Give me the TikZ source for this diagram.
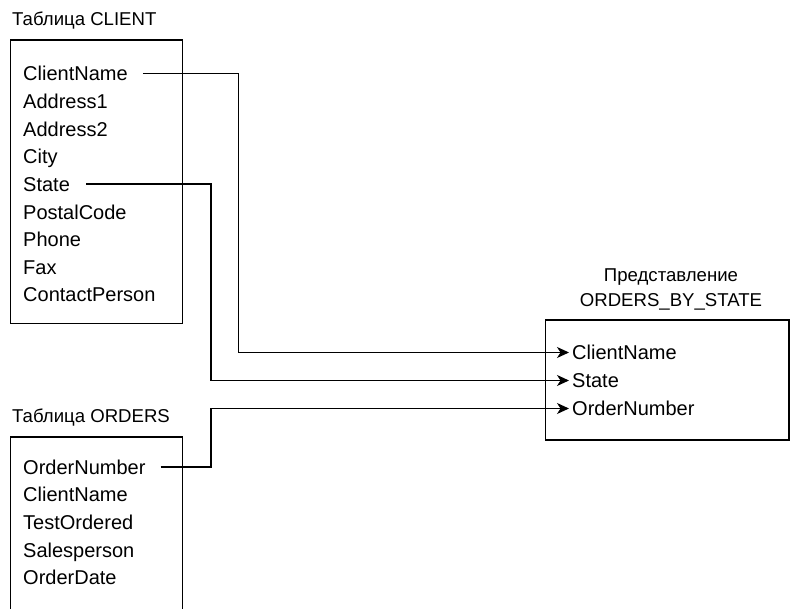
\documentclass[tikz,border=0pt]{standalone}
\usepackage{fontspec}
\setmainfont{Liberation Sans}
\usetikzlibrary{arrows.meta}
\begin{document}
\begin{tikzpicture}[x=1pt,y=-1pt,
  box/.style={draw, line width=1.3pt},
  field/.style={font=\fontsize{20}{24}\selectfont, inner sep=0pt, text height=14.5pt, text depth=0pt, anchor=west},
  ttl/.style={font=\fontsize{18.6}{22}\selectfont, inner sep=0pt, anchor=base west},
  vttl/.style={font=\fontsize{18.6}{22}\selectfont, inner sep=0pt, anchor=base},
  conn/.style={line width=1.3pt},
  arr/.style={conn, -{Stealth[length=12pt,width=11pt,inset=3.5pt]}}]
\useasboundingbox (0,0) rectangle (790,609);
\clip (0,0) rectangle (790,609);
% CLIENT table
\node[ttl] (tc) at (12,26) {Таблица CLIENT};
\draw[box] (10.5,40) rectangle (182.5,323.5);
\node[field] (c1) at (23,73.5) {ClientName};
\node[field] (c2) at (23,101.2) {Address1};
\node[field] (c3) at (23,128.8) {Address2};
\node[field] (c4) at (23,156.5) {City};
\node[field] (c5) at (23,184.1) {State};
\node[field] (c6) at (23,211.8) {PostalCode};
\node[field] (c7) at (23,239.4) {Phone};
\node[field] (c8) at (23,267.1) {Fax};
\node[field] (c9) at (23,294.7) {ContactPerson};
% ORDERS table
\node[ttl] (to) at (12,423) {Таблица ORDERS};
\draw[box] (10.5,620) -- (10.5,437) -- (182.5,437) -- (182.5,620);
\node[field] (o1) at (23,467) {OrderNumber};
\node[field] (o2) at (23,494.6) {ClientName};
\node[field] (o3) at (23,522.3) {TestOrdered};
\node[field] (o4) at (23,549.9) {Salesperson};
\node[field] (o5) at (23,577.6) {OrderDate};
% View
\node[vttl] (v1) at (671,282) {Представление};
\node[vttl] (v2) at (671,307) {ORDERS\_BY\_STATE};
\draw[box] (545.5,320) rectangle (789,440);
\node[field] (w1) at (572,352.5) {ClientName};
\node[field] (w2) at (572,380.5) {State};
\node[field] (w3) at (572,408.5) {OrderNumber};
% connectors
\draw[arr] ([xshift=15pt]c1.east) -| (238.5,352.5) -- ([xshift=-3pt]w1.west);
\draw[arr] ([xshift=16pt]c5.east) -| (211,380.5) -- ([xshift=-3pt]w2.west);
\draw[arr] ([xshift=15pt]o1.east) -| (211,408.5) -- ([xshift=-3pt]w3.west);
\end{tikzpicture}
\end{document}
